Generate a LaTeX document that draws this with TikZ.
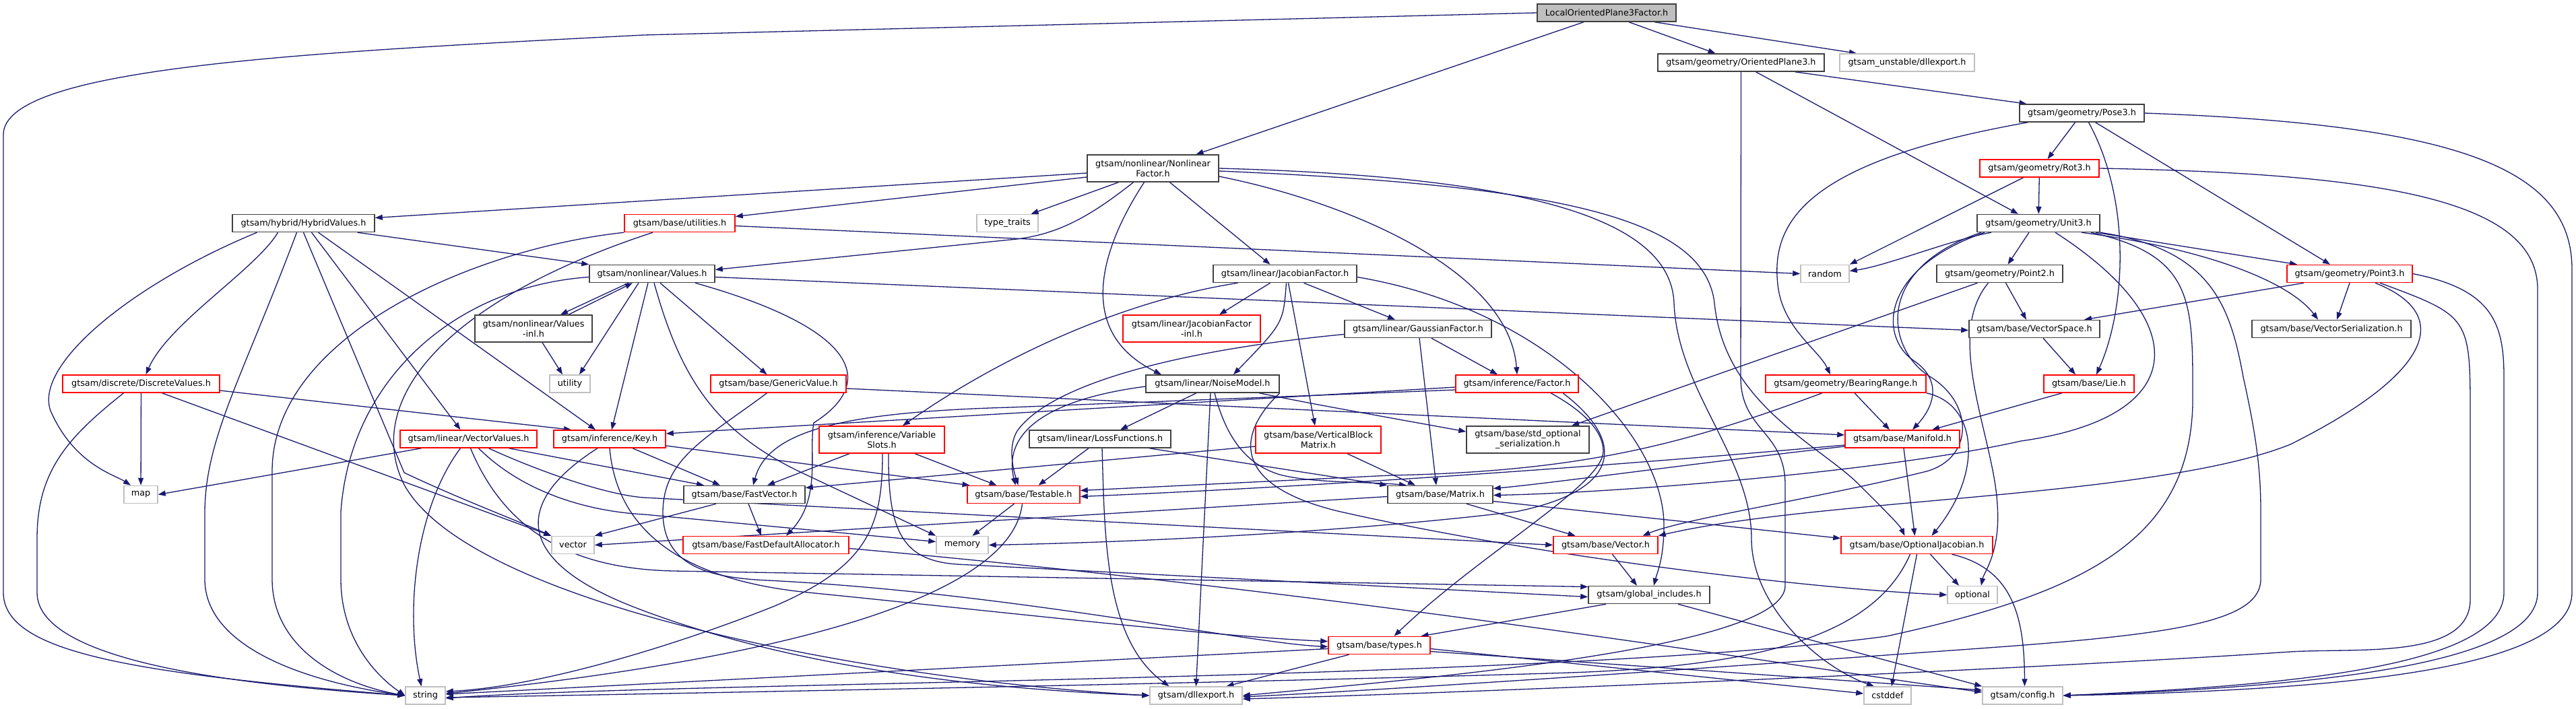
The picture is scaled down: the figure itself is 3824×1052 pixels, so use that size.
\documentclass[tikz,border=0pt]{standalone}
\usepackage{fontspec}
\setmainfont{DejaVu Sans}
\usetikzlibrary{arrows.meta}
\definecolor{edgec}{HTML}{191970}
\definecolor{grayb}{HTML}{BFBFBF}
\definecolor{darkb}{HTML}{404040}
\definecolor{redb}{HTML}{FF0000}
\pgfdeclarelayer{bg}
\pgfsetlayers{bg,main}
\tikzset{
  nd/.style={draw, fill=white, line width=1.5pt, inner sep=0pt, minimum height=26pt, align=center, text=black, font=\fontsize{12.8}{15}\selectfont},
  nb/.style={nd, draw=darkb},
  nr/.style={nd, draw=redb},
  ng/.style={nd, draw=grayb},
  dbl/.style={minimum height=40pt},
  edg/.style={draw=edgec, line width=1.3pt, -{Triangle[length=11pt,width=8pt]}},
}
\begin{document}
\begin{tikzpicture}[x=1pt,y=-1pt]
\begin{pgfonlayer}{bg}
\fill[white] (0,0) rectangle (3824,1052);
\end{pgfonlayer}
\useasboundingbox (0,0) rectangle (3824,1052);
% nodes
\node[nb, fill=grayb, minimum width=206pt] (L) at (2385,19) {LocalOrientedPlane3Factor.h};
\node[nb, minimum width=247pt] (OP3) at (2584.5,93) {gtsam/geometry/OrientedPlane3.h};
\node[ng, minimum width=200pt] (UDLL) at (2831,93) {gtsam\_unstable/dllexport.h};
\node[nb, minimum width=185pt] (POSE) at (3090.5,168) {gtsam/geometry/Pose3.h};
\node[nr, minimum width=177pt] (ROT) at (3027.5,250) {gtsam/geometry/Rot3.h};
\node[nb, minimum width=182pt] (UNIT) at (3026,331.5) {gtsam/geometry/Unit3.h};
\node[nb, dbl, minimum width=195pt] (NF) at (1711.5,250) {gtsam/nonlinear/Nonlinear\\Factor.h};
\node[nb, minimum width=211pt] (HV) at (450.5,331.5) {gtsam/hybrid/HybridValues.h};
\node[nr, minimum width=164pt] (UT) at (1009,331.5) {gtsam/base/utilities.h};
\node[ng, minimum width=91pt] (TT) at (1495.5,331.5) {type\_traits};
\node[nb, minimum width=186pt] (VAL) at (968,406.5) {gtsam/nonlinear/Values.h};
\node[nb, minimum width=213pt] (JF) at (1907.5,406.5) {gtsam/linear/JacobianFactor.h};
\node[ng, minimum width=72pt] (RND) at (2709,406.5) {random};
\node[nb, minimum width=187pt] (P2) at (2968.5,406.5) {gtsam/geometry/Point2.h};
\node[nr, minimum width=186pt] (P3) at (3488,406.5) {gtsam/geometry/Point3.h};
\node[nb, dbl, minimum width=174pt] (VINL) at (792,488) {gtsam/nonlinear/Values\\-inl.h};
\node[nr, dbl, minimum width=204pt] (JFINL) at (1769,488) {gtsam/linear/JacobianFactor\\-inl.h};
\node[nb, minimum width=218pt] (GF) at (2105,488.5) {gtsam/linear/GaussianFactor.h};
\node[nb, minimum width=194pt] (VS) at (3020,488.5) {gtsam/base/VectorSpace.h};
\node[nb, minimum width=236pt] (VSER) at (3461,488.5) {gtsam/base/VectorSerialization.h};
\node[ng, minimum width=60pt] (UTIL) at (846,570) {utility};
\node[nr, minimum width=233pt] (DV) at (209.5,570) {gtsam/discrete/DiscreteValues.h};
\node[nr, minimum width=201pt] (GV) at (1155.5,570) {gtsam/base/GenericValue.h};
\node[nb, minimum width=198pt] (NM) at (1800,570) {gtsam/linear/NoiseModel.h};
\node[nr, minimum width=182pt] (FAC) at (2252,570) {gtsam/inference/Factor.h};
\node[nr, minimum width=238pt] (BR) at (2740,570) {gtsam/geometry/BearingRange.h};
\node[nr, minimum width=134pt] (LIE) at (3101,570) {gtsam/base/Lie.h};
\node[nr, minimum width=203pt] (VV) at (695.5,652) {gtsam/linear/VectorValues.h};
\node[nr, minimum width=166pt] (KEY) at (905,652) {gtsam/inference/Key.h};
\node[nr, dbl, minimum width=186pt] (VSL) at (1309,653) {gtsam/inference/Variable\\Slots.h};
\node[nb, minimum width=210pt] (LF) at (1633,652) {gtsam/linear/LossFunctions.h};
\node[nr, dbl, minimum width=186pt] (VBM) at (1957,653) {gtsam/base/VerticalBlock\\Matrix.h};
\node[nb, dbl, minimum width=182pt] (STDO) at (2268,653) {gtsam/base/std\_optional\\\_serialization.h};
\node[nr, minimum width=170pt] (MAN) at (2824,652) {gtsam/base/Manifold.h};
\node[ng, minimum width=50pt] (MAP) at (209,734.5) {map};
\node[nb, minimum width=180pt] (FV) at (1105,734.5) {gtsam/base/FastVector.h};
\node[nr, minimum width=167pt] (TST) at (1519.5,734.5) {gtsam/base/Testable.h};
\node[nb, minimum width=156pt] (MAT) at (2138,734.5) {gtsam/base/Matrix.h};
\node[ng, minimum width=63pt] (VEC) at (850.5,809.5) {vector};
\node[nr, minimum width=246pt] (FDA) at (1137,809.5) {gtsam/base/FastDefaultAllocator.h};
\node[ng, minimum width=77pt] (MEM) at (1428.5,809.5) {memory};
\node[nr, minimum width=155pt] (VECH) at (2383.5,809.5) {gtsam/base/Vector.h};
\node[nr, minimum width=225pt] (OJ) at (2845.5,809.5) {gtsam/base/OptionalJacobian.h};
\node[nb, minimum width=180pt] (GI) at (2448,883.5) {gtsam/global\_includes.h};
\node[ng, minimum width=74pt] (OPT) at (2928,883.5) {optional};
\node[nr, minimum width=151pt] (TYP) at (2047.5,958.5) {gtsam/base/types.h};
\node[ng, minimum width=59pt] (STR) at (631.5,1033) {string};
\node[ng, minimum width=137pt] (DLL) at (1775.5,1033) {gtsam/dllexport.h};
\node[ng, minimum width=70pt] (CST) at (2802,1033) {cstddef};
\node[ng, minimum width=119pt] (CFG) at (3002.5,1033) {gtsam/config.h};
\begin{pgfonlayer}{bg}
% LocalOrientedPlane3Factor
\draw[edg] (L.west) -- (956,52) .. controls (450,78) and (5,100) .. (5,200) -- (5,880) .. controls (5,970) and (200,1000) .. (STR.west);
\draw[edg] ([xshift=-34]L.south) -- ([xshift=64]NF.north);
\draw[edg] ([xshift=33]L.south) -- ([xshift=-38]OP3.north);
\draw[edg] ([xshift=71]L.south) -- ([xshift=-75]UDLL.north);
% OrientedPlane3
\draw[edg] ([xshift=80]OP3.south) -- ([xshift=-82]POSE.north);
\draw[edg] ([xshift=22]OP3.south) -- ([xshift=-30]UNIT.north);
\draw[edg] (OP3.south) -- (2584,560) .. controls (2584,640) and (2650,640) .. (2650,720) -- (2650,870) .. controls (2650,960) and (2150,1005) .. (DLL.east);
% Pose3
\draw[edg] ([xshift=-10]POSE.south) -- ([xshift=12]ROT.north);
\draw[edg] ([xshift=-80]POSE.south) .. controls (2680,240) and (2625,330) .. (2640,430) .. controls (2650,490) and (2700,520) .. ([xshift=-23]BR.north);
\draw[edg] ([xshift=10]POSE.south) .. controls (3165,300) and (3155,460) .. ([xshift=11]LIE.north);
\draw[edg] ([xshift=20]POSE.south) -- ([xshift=-29]P3.north);
\draw[edg] (POSE.east) .. controls (3650,185) and (3818,250) .. (3818,400) -- (3818,880) .. controls (3818,990) and (3500,1025) .. (CFG.east);
% Rot3
\draw[edg] (ROT) -- (UNIT);
\draw[edg] ([xshift=-24]ROT.south) -- (RND.north east);
\draw[edg] (ROT.east) .. controls (3550,258) and (3767,300) .. (3767,430) -- (3767,880) .. controls (3767,985) and (3450,1020) .. (CFG.east);
% Unit3
\draw[edg] ([xshift=-70]UNIT.south) .. controls (2900,355) and (2800,395) .. ([yshift=4]RND.east);
\draw[edg] ([xshift=-14]UNIT.south) -- ([xshift=12]P2.north);
\draw[edg] ([xshift=85]UNIT.south) -- ([xshift=-78]P3.north);
\draw[edg] ([xshift=64]UNIT.south) .. controls (3280,370) and (3400,420) .. ([xshift=-20]VSER.north);
\draw[edg] ([xshift=-80]UNIT.south) .. controls (2790,400) and (2790,500) .. (2840,535) .. controls (2885,565) and (2870,605) .. ([xshift=15]MAN.north);
\draw[edg] ([xshift=25]UNIT.south) .. controls (3260,480) and (3250,620) .. (3000,655) .. controls (2800,700) and (2400,732) .. ([yshift=-1]MAT.east);
\draw[edg] ([xshift=-85]UNIT.south) .. controls (2780,400) and (2800,520) .. (2866,560) .. controls (2930,600) and (2930,680) .. (2860,700) .. controls (2700,740) and (2500,770) .. ([xshift=55]VECH.north);
\draw[edg] ([xshift=78]UNIT.south) .. controls (3260,380) and (3255,450) .. (3255,600) .. controls (3250,800) and (3100,880) .. (2800,945) .. controls (2300,1012) and (1000,1012) .. ([yshift=-4]STR.east);
\draw[edg] (UNIT.south east) .. controls (3280,370) and (3310,450) .. (3330,560) .. controls (3350,650) and (3356,700) .. (3356,760) -- (3356,860) .. controls (3356,930) and (3200,945) .. (2868,968) .. controls (2500,995) and (2050,1025) .. ([yshift=-2]DLL.east);
% Point2
\draw[edg] ([xshift=9]P2.south) -- ([xshift=-12]VS.north);
\draw[edg] ([xshift=-33]P2.south) -- ([xshift=65]STDO.north);
\draw[edg] ([xshift=-17]P2.south) .. controls (2885,500) and (2960,650) .. (2965,750) .. controls (2970,820) and (2945,850) .. ([xshift=13]OPT.north);
% Point3
\draw[edg] ([xshift=-68]P3.south) -- ([xshift=74]VS.north);
\draw[edg] (P3.south) -- ([xshift=8]VSER.north);
\draw[edg] ([xshift=38]P3.south) .. controls (3650,470) and (3600,560) .. (3400,660) .. controls (3200,740) and (2700,740) .. (VECH.north east);
\draw[edg] ([xshift=45]P3.south) .. controls (3667,470) .. (3667,620) -- (3667,890) .. controls (3667,980) and (3500,962) .. (3400,968) .. controls (3000,995) and (2150,1030) .. ([yshift=-5]DLL.east);
\draw[edg] (P3.east) .. controls (3700,430) and (3717,480) .. (3717,560) -- (3717,880) .. controls (3717,990) and (3400,1018) .. (CFG.east);
% VectorSpace, Lie, BearingRange, Manifold
\draw[edg] ([xshift=13]VS.south) -- ([xshift=-20]LIE.north);
\draw[edg] ([xshift=-40]LIE.south) -- ([xshift=44]MAN.north);
\draw[edg] ([xshift=13]BR.south) -- ([xshift=-19]MAN.north);
\draw[edg] ([xshift=-35]BR.south) .. controls (2500,660) and (2350,700) .. (2064,706) -- ([yshift=6]TST.east);
\draw[edg] (BR.south east) .. controls (2935,600) and (2945,700) .. ([xshift=22]OJ.north);
\draw[edg] ([yshift=-9]MAN.west) .. controls (2300,700) and (1900,725) .. ([yshift=-3]TST.east);
\draw[edg] ([yshift=-11]MAN.west) .. controls (2500,690) and (2300,718) .. ([yshift=9]MAT.east);
\draw[edg] ([xshift=2]MAN.south) -- ([xshift=-3]OJ.north);
% NonlinearFactor
\draw[edg] ([yshift=-7]NF.west) -- ([yshift=8]HV.east);
\draw[edg] ([yshift=-13]NF.west) -- ([yshift=10]UT.east);
\draw[edg] ([xshift=-51]NF.south) -- ([xshift=35]TT.north);
\draw[edg] ([xshift=-29]NF.south) .. controls (1620,320) and (1570,350) .. (1500,356) -- ([yshift=6]VAL.east);
\draw[edg] ([xshift=-13]NF.south) .. controls (1640,360) and (1590,490) .. ([xshift=-76]NM.north);
\draw[edg] ([xshift=25]NF.south) -- ([xshift=-22]JF.north);
\draw[edg] ([yshift=-12]NF.east) .. controls (2000,300) and (2240,400) .. (FAC.north);
\draw[edg] (NF.east) .. controls (2250,262) and (2480,320) .. (2485,450) .. controls (2490,580) and (2600,680) .. (2600,800) .. controls (2600,900) and (2700,990) .. ([xshift=-20]CST.north);
\draw[edg] ([yshift=-4]NF.east) .. controls (2300,275) and (2530,320) .. (2545,450) .. controls (2560,600) and (2700,660) .. (2760,720) .. controls (2800,760) and (2820,780) .. ([xshift=-18]OJ.north);
% HybridValues
\draw[edg] ([xshift=-38]HV.south) .. controls (380,400) and (250,480) .. ([xshift=7]DV.north);
\draw[edg] ([xshift=-69]HV.south) .. controls (200,420) and (50,540) .. (75,610) .. controls (110,690) and (170,705) .. ([xshift=-15]MAP.north);
\draw[edg] ([xshift=-10]HV.south) .. controls (360,560) and (305,650) .. (304,760) -- (304,860) .. controls (304,960) and (450,1012) .. (STR.west);
\draw[edg] (HV.south) -- (600,702) .. controls (680,740) and (760,770) .. (VEC.north west);
\draw[edg] ([xshift=12]HV.south) -- ([xshift=-12]VV.north);
\draw[edg] ([xshift=22]HV.south) -- ([xshift=-21]KEY.north);
\draw[edg] ([xshift=80]HV.south) -- (VAL.north west);
% utilities
\draw[edg] ([yshift=-4]UT.east) -- (RND.west);
\draw[edg] (UT.south west) .. controls (700,370) and (404,500) .. (404,700) -- (404,860) .. controls (404,960) and (500,1015) .. (STR.west);
\draw[edg] ([xshift=-40]UT.south) .. controls (650,450) and (540,600) .. (600,720) .. controls (700,900) and (1300,1010) .. (DLL.west);
% Values
\draw[edg] ([xshift=-35]VAL.south) -- ([xshift=40]VINL.north);
\draw[edg] ([xshift=52]VINL.north) -- ([xshift=-29]VAL.south);
\draw[edg] ([xshift=-20]VAL.south) -- ([xshift=14]UTIL.north);
\draw[edg] ([xshift=13]VINL.south) -- ([xshift=-11]UTIL.north);
\draw[edg] ([xshift=-6]VAL.south) -- ([xshift=3]KEY.north);
\draw[edg] ([yshift=-5]VAL.west) .. controls (680,425) and (520,560) .. (506,760) -- (506,860) .. controls (506,950) and (560,1005) .. (STR.west);
\draw[edg] ([xshift=12]VAL.south) -- ([xshift=-17]GV.north);
\draw[edg] ([xshift=3]VAL.south) .. controls (1010,560) and (1060,640) .. (1190,702) -- (MEM.north west);
\draw[edg] ([xshift=64]VAL.south) .. controls (1280,490) and (1300,570) .. (1208,628) .. controls (1200,670) and (1220,740) .. ([xshift=30]FDA.north);
\draw[edg] ([yshift=-5]VAL.east) -- ([yshift=-2]VS.west);
% DiscreteValues
\draw[edg] ([yshift=-10]DV.east) -- ([xshift=-57]KEY.north);
\draw[edg] (DV) -- (MAP);
\draw[edg] ([xshift=-26]DV.south) .. controls (100,650) and (55,700) .. (55,800) -- (55,880) .. controls (55,990) and (400,1020) .. (STR.west);
\draw[edg] ([xshift=31]DV.south) -- (VEC.north west);
% VectorValues
\draw[edg] ([xshift=-70]VV.south) -- (MAP.east);
\draw[edg] ([xshift=-12]VV.south) .. controls (620,750) and (600,900) .. ([xshift=-6]STR.north);
\draw[edg] ([xshift=3]VV.south) .. controls (750,790) and (850,845) .. (1000,848) -- ([yshift=12]GI.west);
\draw[edg] ([xshift=15]VV.south) .. controls (780,735) and (880,760) .. (956,764) -- ([yshift=5]MEM.west);
\draw[edg] ([xshift=30]VV.south) .. controls (800,700) and (900,735) .. (956,739) -- (VECH.west);
\draw[edg] ([xshift=60]VV.south) -- ([xshift=-60]FV.north);
% Key
\draw[edg] ([xshift=34]KEY.south) -- ([xshift=-36]FV.north);
\draw[edg] ([yshift=-10]KEY.east) -- ([xshift=-80]TST.north);
\draw[edg] ([xshift=-18]KEY.south) .. controls (770,740) and (750,830) .. (950,905) .. controls (1200,1000) and (1500,1025) .. (DLL.west);
\draw[edg] (KEY.south) .. controls (915,780) and (1000,860) .. (1200,880) .. controls (1500,910) and (1800,945) .. ([yshift=6]TYP.west);
% GenericValue
\draw[edg] ([yshift=-7]GV.east) -- ([yshift=6]MAN.west);
\draw[edg] ([xshift=-17]GV.south) .. controls (1050,650) and (985,680) .. (984,760) .. controls (984,840) and (1050,858) .. (1140,862) .. controls (1500,880) and (1850,955) .. ([yshift=-2]TYP.west);
% JacobianFactor
\draw[edg] ([xshift=-22]JF.south) -- ([xshift=41]JFINL.north);
\draw[edg] ([xshift=2]JF.south) .. controls (1905,480) .. ([xshift=31]NM.north);
\draw[edg] ([xshift=28]JF.south) -- ([xshift=-34]GF.north);
\draw[edg] ([xshift=5]JF.south) -- ([xshift=-5]VBM.north);
\draw[edg] ([xshift=-70]JF.south) .. controls (1680,445) and (1500,520) .. ([xshift=31]VSL.north);
\draw[edg] ([yshift=-5]JF.east) .. controls (2300,460) and (2470,650) .. (2470,780) .. controls (2470,830) and (2460,850) .. ([xshift=7]GI.north);
% GaussianFactor
\draw[edg] ([xshift=20]GF.south) -- ([xshift=-29]FAC.north);
\draw[edg] ([xshift=2]GF.south) -- ([xshift=-6]MAT.north);
\draw[edg] ([yshift=-8]GF.west) .. controls (1750,520) and (1560,570) .. (1510,640) .. controls (1495,665) and (1505,700) .. ([xshift=-8]TST.north);
% NoiseModel
\draw[edg] ([xshift=-24]NM.south) -- ([xshift=30]LF.north);
\draw[edg] ([yshift=-4]NM.west) .. controls (1540,595) and (1490,650) .. ([xshift=-12]TST.north);
\draw[edg] ([xshift=3]NM.south) .. controls (1820,650) and (1850,690) .. (1900,705) .. controls (1950,718) and (2030,715) .. ([xshift=-50]MAT.north);
\draw[edg] ([xshift=-3]NM.south) -- (DLL.north);
\draw[edg] ([xshift=69]NM.south) .. controls (1950,600) .. ([yshift=12]STDO.west);
\draw[edg] (NM.south east) .. controls (1840,640) and (1820,720) .. (1990,760) .. controls (2300,830) and (2700,875) .. (OPT.west);
% LossFunctions
\draw[edg] ([xshift=-17]LF.south) -- ([xshift=22]TST.north);
\draw[edg] ([xshift=73]LF.south) -- (MAT.north west);
\draw[edg] ([xshift=3]LF.south) .. controls (1640,800) and (1640,950) .. ([xshift=-40]DLL.north);
% VariableSlots
\draw[edg] ([xshift=-48]VSL.south) -- ([xshift=34]FV.north);
\draw[edg] ([xshift=1]VSL.south) .. controls (1310,780) and (1290,840) .. (1150,900) .. controls (1000,960) and (800,1020) .. ([yshift=6]STR.east);
\draw[edg] ([xshift=49]VSL.south) -- ([xshift=-40]TST.north);
\draw[edg] ([xshift=10]VSL.south) .. controls (1318,790) and (1340,832) .. (1420,838) -- ([yshift=-3]GI.west);
% VerticalBlockMatrix
\draw[edg] ([yshift=-10]VBM.west) -- ([yshift=10]FV.east);
\draw[edg] ([xshift=43]VBM.south) -- ([xshift=-37]MAT.north);
% Factor
\draw[edg] ([yshift=-5]FAC.west) -- ([yshift=8]KEY.east);
\draw[edg] ([yshift=-9]FAC.west) -- (1500,605) .. controls (1250,612) and (1140,640) .. ([xshift=13]FV.north);
\draw[edg] ([xshift=50]FAC.south) .. controls (2350,610) and (2380,640) .. (2380,670) .. controls (2380,720) and (2200,820) .. ([xshift=22]TYP.north);
\draw[edg] ([xshift=68]FAC.south) .. controls (2420,660) and (2400,730) .. (2250,760) .. controls (2000,790) and (1700,805) .. (MEM.east);
% Testable
\draw[edg] ([xshift=-14]TST.south) -- ([xshift=15]MEM.north);
\draw[edg] ([xshift=-2]TST.south) .. controls (1500,900) and (1100,985) .. ([yshift=3]STR.east);
% FastVector, FastDefaultAllocator
\draw[edg] ([xshift=6]FV.south) -- ([xshift=-7]FDA.north);
\draw[edg] ([xshift=-42]FV.south) -- (VEC.north east);
\draw[edg] ([yshift=-5]FDA.east) .. controls (2000,880) and (2700,995) .. ([yshift=5]CFG.west);
% Matrix
\draw[edg] ([xshift=39]MAT.south) -- ([xshift=-45]VECH.north);
\draw[edg] ([yshift=-10]MAT.east) -- ([yshift=10]OJ.west);
\draw[edg] ([yshift=-3]MAT.west) -- (VEC.east);
% Vector, global_includes, types
\draw[edg] ([xshift=10]VECH.south) -- ([xshift=-18]GI.north);
\draw[edg] ([xshift=-64]GI.south) -- ([xshift=62]TYP.north);
\draw[edg] ([xshift=43]GI.south) -- (CFG.north west);
\draw[edg] ([xshift=-45]TYP.south) -- ([xshift=45]DLL.north);
\draw[edg] ([yshift=-5]TYP.west) -- ([yshift=2]STR.east);
\draw[edg] ([yshift=-5]TYP.east) -- ([yshift=3]CST.west);
\draw[edg] ([yshift=-9]TYP.east) -- ([yshift=8]CFG.west);
% OptionalJacobian
\draw[edg] ([xshift=20]OJ.south) -- ([xshift=-20]OPT.north);
\draw[edg] ([xshift=52]OJ.south) .. controls (2990,845) and (3005,920) .. ([xshift=3]CFG.north);
\draw[edg] (OJ.south) -- ([xshift=6]CST.north);
\draw[edg] ([xshift=-10]OJ.south) .. controls (2780,950) and (2600,992) .. (2300,1000) .. controls (1800,1015) and (1000,1030) .. ([yshift=-3]STR.east);
\end{pgfonlayer}
\end{tikzpicture}
\end{document}
